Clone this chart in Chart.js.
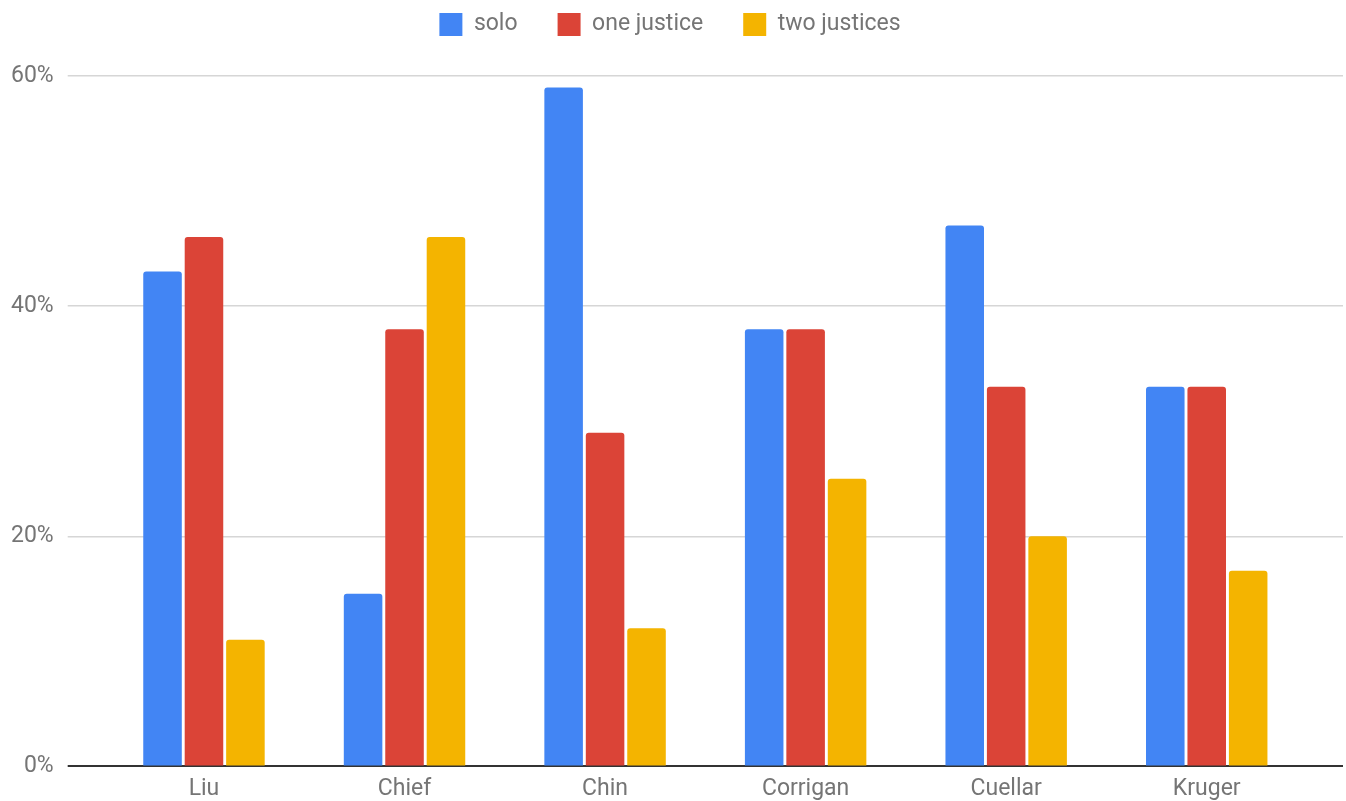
<!DOCTYPE html>
<html>
<head>
<meta charset="utf-8">
<script src="https://cdn.jsdelivr.net/npm/chart.js@4/dist/chart.umd.min.js"></script>
<style>
  html, body { margin: 0; padding: 0; background: #fff; }
  #wrap { width: 1346px; height: 801px; }
</style>
</head>
<body>
<div id="wrap"><canvas id="chart"></canvas></div>
<script>
const categories = ["Liu", "Chief", "Chin", "Corrigan", "Cuellar", "Kruger"];
const soloValues = [43, 15, 59, 38, 47, 33];
const oneJusticeValues = [46, 38, 29, 38, 33, 33];
const twoJusticesValues = [11, 46, 12, 25, 20, 17];
const yTicks = [0, 20, 40, 60];

const FONT = "Roboto, 'Noto Sans', sans-serif";
const TEXT_COLOR = "#757575";

function gridColor(ctx) {
  return ctx.tick && ctx.tick.value === 0 ? "#333333" : "#d6d6d6";
}

function gridWidth(ctx) {
  return ctx.tick && ctx.tick.value === 0 ? 2 : 1.5;
}

function makeDataset(label, data, color) {
  return {
    label: label,
    data: data,
    backgroundColor: color,
    borderRadius: { topLeft: 3, topRight: 3 },
    borderSkipped: "bottom",
    categoryPercentage: 0.62,
    barPercentage: 0.93
  };
}

// extra room under the legend
const legendMargin = {
  id: "legendMargin",
  beforeInit(chart) {
    const fit = chart.legend.fit;
    chart.legend.fit = function () {
      fit.bind(chart.legend)();
      this.height += 30;
    };
  }
};

new Chart(document.getElementById("chart"), {
  type: "bar",
  data: {
    labels: categories,
    datasets: [
      makeDataset("solo", soloValues, "#4285F4"),
      makeDataset("one justice", oneJusticeValues, "#DB4437"),
      makeDataset("two justices", twoJusticesValues, "#F4B400")
    ]
  },
  plugins: [legendMargin],
  options: {
    responsive: true,
    maintainAspectRatio: false,
    animation: false,
    layout: { padding: { left: -3, right: 3, top: -27, bottom: -3 } },
    plugins: {
      tooltip: { enabled: false },
      legend: {
        position: "top",
        labels: {
          boxWidth: 23,
          boxHeight: 23,
          padding: 40,
          color: TEXT_COLOR,
          font: { family: FONT, size: 23 }
        }
      }
    },
    scales: {
      x: {
        grid: { display: false },
        border: { display: false },
        ticks: {
          color: TEXT_COLOR,
          padding: 1,
          font: { family: FONT, size: 23 }
        }
      },
      y: {
        min: 0,
        max: 60,
        afterBuildTicks: axis => { axis.ticks = yTicks.map(v => ({ value: v })); },
        border: { display: false },
        grid: {
          color: gridColor,
          lineWidth: gridWidth,
          drawTicks: true,
          tickLength: 36
        },
        ticks: {
          color: TEXT_COLOR,
          padding: 14,
          font: { family: FONT, size: 23 },
          callback: v => v + "%"
        }
      },
      y2: {
        position: "right",
        min: 0,
        max: 60,
        afterBuildTicks: axis => { axis.ticks = yTicks.map(v => ({ value: v })); },
        border: { display: false },
        grid: {
          color: gridColor,
          lineWidth: gridWidth,
          drawOnChartArea: false,
          drawTicks: true,
          tickLength: 36
        },
        ticks: { display: false }
      }
    }
  }
});
</script>
</body>
</html>
